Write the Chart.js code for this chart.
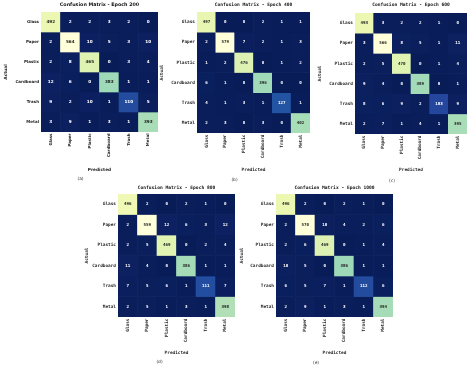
<!DOCTYPE html>
<html><head><meta charset="utf-8">
<script src="https://cdn.jsdelivr.net/npm/chart.js@4"></script>
<style>
html,body{margin:0;padding:0;background:#fff}
body{width:474px;height:367px;position:relative;overflow:hidden}
canvas{position:absolute}
</style></head><body>
<script>
// ---- data ----
const classes = ['Glass','Paper','Plastic','Cardboard','Trash','Metal'];
const epochs = [200, 400, 600, 800, 1000];
const captions = ['(a)','(b)','(c)','(d)','(e)'];
const cm200 = [
  [492, 2, 2, 3, 2, 0],
  [2, 564, 10, 5, 3, 10],
  [2, 8, 465, 0, 3, 4],
  [12, 6, 0, 383, 1, 1],
  [9, 2, 10, 1, 110, 5],
  [3, 9, 1, 3, 1, 393]
];
const cm400 = [
  [497, 0, 0, 2, 1, 1],
  [2, 579, 7, 2, 1, 3],
  [1, 2, 476, 0, 1, 2],
  [6, 1, 0, 396, 0, 0],
  [4, 1, 3, 1, 127, 1],
  [2, 3, 0, 3, 0, 402]
];
const cm600 = [
  [493, 3, 2, 2, 1, 0],
  [3, 566, 8, 5, 1, 11],
  [2, 5, 470, 0, 1, 4],
  [9, 4, 0, 389, 0, 1],
  [8, 6, 9, 2, 103, 9],
  [2, 7, 1, 4, 1, 395]
];
const cm800 = [
  [496, 2, 0, 2, 1, 0],
  [2, 559, 12, 6, 3, 12],
  [2, 5, 469, 0, 2, 4],
  [11, 4, 0, 386, 1, 1],
  [7, 5, 6, 1, 111, 7],
  [2, 5, 1, 3, 1, 398]
];
const cm1000 = [
  [496, 2, 0, 2, 1, 0],
  [2, 570, 10, 4, 2, 6],
  [2, 6, 469, 0, 1, 4],
  [10, 5, 0, 386, 1, 1],
  [6, 5, 7, 1, 112, 6],
  [2, 9, 1, 3, 1, 394]
];
const matrices = [cm200, cm400, cm600, cm800, cm1000];

// ---- layout (pixel geometry of each panel) ----
const panels = [
  {fam:'"DejaVu Sans"',      g:[41,12,158,132],  ax:6,   ty:5,     py:170,   cy:179,   tF:4.8, kF:4.0, nF:4.2, aF:4.3},
  {fam:'"DejaVu Sans Mono"', g:[197,12,310,133], ax:162, ty:5,     py:170,   cy:180,   tF:4.6, kF:4.4, nF:4.2, aF:4.4},
  {fam:'"DejaVu Sans Mono"', g:[355,13,467,134], ax:320, ty:5,     py:170,   cy:181,   tF:4.6, kF:4.4, nF:4.2, aF:4.4},
  {fam:'"DejaVu Sans Mono"', g:[118,194,235,317],ax:87,  ty:187.3, py:352.7, cy:362,   tF:4.6, kF:4.4, nF:4.2, aF:4.4},
  {fam:'"DejaVu Sans Mono"', g:[276,194,393,317],ax:242, ty:187.3, py:352.7, cy:362.7, tF:4.6, kF:4.4, nF:4.2, aF:4.4}
];

// ---- colormap YlGnBu (reversed: high = light) ----
const stops = ['#ffffd9','#edf8b1','#c7e9b4','#7fcdbb','#41b6c4','#1d91c0','#225ea8','#253494','#081d58']
  .map(h => [1,3,5].map(k => parseInt(h.substr(k,2),16)));
function cmap(t){ // t in [0,1], 1 -> light
  let p = (1 - Math.max(0, Math.min(1, t))) * (stops.length - 1);
  let i = Math.min(Math.floor(p), stops.length - 2), f = p - i;
  return stops[i].map((c,k) => Math.round(c + (stops[i+1][k]-c)*f));
}
function rgb(a){ return `rgb(${a[0]},${a[1]},${a[2]})`; }
function lum(a){
  const l = a.map(c => { c/=255; return c <= 0.03928 ? c/12.92 : Math.pow((c+0.055)/1.055, 2.4); });
  return 0.2126*l[0] + 0.7152*l[1] + 0.0722*l[2];
}

const annot = {
  id: 'annot',
  afterDatasetsDraw(chart, args, o){
    const ctx = chart.ctx;
    ctx.save();
    ctx.font = `bold ${o.size}px ${o.fam}`;
    ctx.textAlign = 'center';
    ctx.textBaseline = 'middle';
    chart.data.datasets.forEach((ds, i) => {
      chart.getDatasetMeta(i).data.forEach((bar, j) => {
        const p = bar.getProps(['x','y','base'], true);
        const v = o.m[i][j];
        const c = cmap(v / o.max);
        ctx.fillStyle = lum(c) > 0.408 ? '#262626' : '#ffffff';
        ctx.fillText(String(v), p.x, (p.y + p.base) / 2);
      });
    });
    ctx.restore();
  }
};

panels.forEach((P, k) => {
  const m = matrices[k];
  const max = Math.max(...m.flat());
  const [gl, gt, gr, gb] = P.g;
  const lhA = P.aF * 1.2, lhT = P.tF * 1.2, lhC = 4.4 * 1.2;
  const cl = Math.round(P.ax - lhA / 2);
  const ct = Math.floor(P.ty - lhT / 2 - 1);
  const W = gr - cl;
  const H = Math.round(P.cy + lhC / 2 + 1 - ct);
  const tPadTop = P.ty - lhT / 2 - ct;
  const tPadBot = gt - P.ty - lhT / 2;
  const Hx = P.py + lhA / 2 - gb;
  const sPadTop = (P.cy - lhC / 2) - (P.py + lhA / 2);
  const sPadBot = (ct + H) - (P.cy + lhC / 2);
  const yW = gl - cl;

  const cv = document.createElement('canvas');
  cv.width = W; cv.height = H;
  cv.style.left = cl + 'px'; cv.style.top = ct + 'px';
  cv.style.width = W + 'px'; cv.style.height = H + 'px';
  document.body.appendChild(cv);

  const datasets = classes.map((name, i) => ({
    label: name,
    data: classes.map(() => 1),
    backgroundColor: ctx => rgb(cmap(m[i][ctx.dataIndex] / max)),
    borderWidth: 0,
    barPercentage: 1,
    categoryPercentage: 1
  }));

  new Chart(cv, {
    type: 'bar',
    data: { labels: classes, datasets },
    plugins: [annot],
    options: {
      responsive: false,
      animation: false,
      devicePixelRatio: 1,
      layout: { padding: 0 },
      events: [],
      scales: {
        x: {
          type: 'category', stacked: true, offset: true,
          grid: { display: false, drawTicks: false },
          border: { display: false },
          ticks: { autoSkip: false, minRotation: 90, maxRotation: 90, padding: 1.5,
                   color: '#262626', font: { family: P.fam, size: P.kF, weight: 'bold' } },
          title: { display: true, text: 'Predicted', padding: 0, color: '#262626',
                   font: { family: P.fam, size: P.aF, weight: 'bold' } },
          afterFit: s => { s.height = Hx; }
        },
        y: {
          type: 'linear', stacked: true, reverse: true, min: 0, max: 6,
          grid: { display: false, drawTicks: false },
          border: { display: false },
          afterBuildTicks: s => { s.ticks = classes.map((c, i) => ({ value: i + 0.5 })); },
          ticks: { padding: 2, color: '#262626', callback: (v, i) => classes[i],
                   font: { family: P.fam, size: P.kF, weight: 'bold' } },
          title: { display: true, text: 'Actual', padding: 0, color: '#262626',
                   font: { family: P.fam, size: P.aF, weight: 'bold' } },
          afterFit: s => { s.width = yW; }
        }
      },
      plugins: {
        legend: { display: false },
        tooltip: { enabled: false },
        title: { display: true, fullSize: false, text: 'Confusion Matrix - Epoch ' + epochs[k],
                 color: '#111', padding: { top: tPadTop, bottom: tPadBot },
                 font: { family: P.fam, size: P.tF, weight: 'bold' } },
        subtitle: { display: true, position: 'bottom', text: captions[k], color: '#333',
                    padding: { top: sPadTop, bottom: sPadBot },
                    font: { family: '"DejaVu Sans"', size: 4.4, weight: 'normal' } },
        annot: { m, max, fam: P.fam, size: P.nF }
      }
    }
  });
});
</script>
</body></html>
